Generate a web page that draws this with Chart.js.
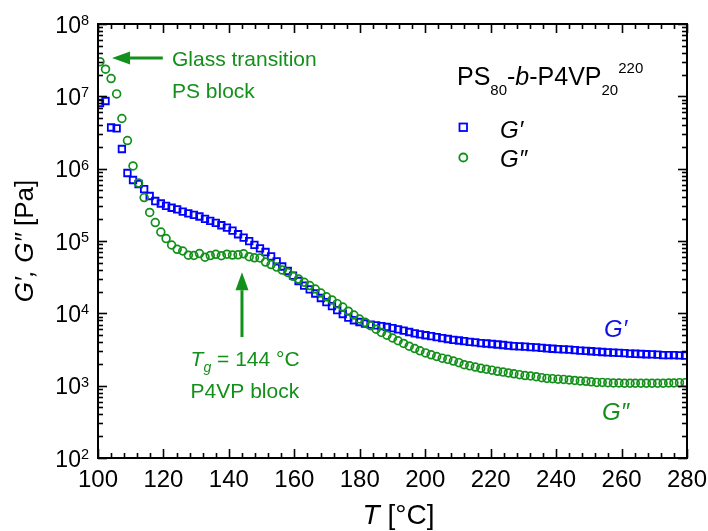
<!DOCTYPE html>
<html><head><meta charset="utf-8">
<script src="https://cdn.jsdelivr.net/npm/chart.js@4.4.1/dist/chart.umd.min.js"></script>
<style>html,body{margin:0;padding:0;background:#fff}</style>
</head><body>
<canvas id="c" width="708" height="531"></canvas>
<script>
// Temperature (°C)
const temperature = [100.6,102.3,104.0,105.7,107.3,109.0,110.7,112.4,114.1,115.8,
117.5,119.2,120.8,122.5,124.2,125.9,127.6,129.3,131.0,132.7,
134.3,136.0,137.7,139.4,141.1,142.8,144.5,146.2,147.8,149.5,
151.2,152.9,154.6,156.3,158.0,159.6,161.3,163.0,164.7,166.4,
168.1,169.8,171.5,173.1,174.8,176.5,178.2,179.9,181.6,183.3,
185.0,186.6,188.3,190.0,191.7,193.4,195.1,196.8,198.4,200.1,
201.8,203.5,205.2,206.9,208.6,210.3,211.9,213.6,215.3,217.0,
218.7,220.4,222.1,223.8,225.4,227.1,228.8,230.5,232.2,233.9,
235.6,237.2,238.9,240.6,242.3,244.0,245.7,247.4,249.1,250.7,
252.4,254.1,255.8,257.5,259.2,260.9,262.6,264.2,265.9,267.6,
269.3,271.0,272.7,274.4,276.0,277.7,279.4];
// G' storage modulus (Pa)
const storageModulus = [8.09e6,8.62e6,3.71e6,3.61e6,1.87e6,8.71e5,6.97e5,6.14e5,5.23e5,4.19e5,
3.57e5,3.30e5,3.05e5,2.88e5,2.73e5,2.55e5,2.41e5,2.29e5,2.18e5,2.02e5,
1.90e5,1.78e5,1.65e5,1.53e5,1.39e5,1.24e5,1.11e5,9.93e4,8.83e4,7.90e4,
7.04e4,6.14e4,5.24e4,4.44e4,3.85e4,3.33e4,2.80e4,2.42e4,2.14e4,1.88e4,
1.63e4,1.43e4,1.26e4,1.11e4,9.79e3,8.75e3,8.03e3,7.59e3,7.23e3,6.98e3,
6.81e3,6.66e3,6.47e3,6.23e3,6.01e3,5.75e3,5.52e3,5.29e3,5.13e3,4.98e3,
4.83e3,4.68e3,4.54e3,4.42e3,4.30e3,4.21e3,4.12e3,4.04e3,3.96e3,3.88e3,
3.83e3,3.77e3,3.71e3,3.65e3,3.58e3,3.53e3,3.49e3,3.46e3,3.42e3,3.38e3,
3.33e3,3.28e3,3.24e3,3.21e3,3.18e3,3.14e3,3.10e3,3.06e3,3.02e3,2.99e3,
2.95e3,2.92e3,2.89e3,2.86e3,2.84e3,2.81e3,2.78e3,2.76e3,2.74e3,2.72e3,
2.70e3,2.68e3,2.65e3,2.65e3,2.64e3,2.62e3,2.61e3];
// G'' loss modulus (Pa)
const lossModulus = [3.01e7,2.37e7,1.76e7,1.08e7,4.94e6,2.45e6,1.09e6,6.33e5,3.99e5,2.48e5,
1.80e5,1.33e5,1.08e5,8.80e4,7.68e4,7.27e4,6.36e4,6.30e4,6.71e4,5.97e4,
6.28e4,6.55e4,6.26e4,6.57e4,6.40e4,6.44e4,6.65e4,6.07e4,5.86e4,5.82e4,
5.12e4,4.73e4,4.36e4,3.97e4,3.67e4,3.25e4,2.98e4,2.69e4,2.42e4,2.17e4,
1.91e4,1.69e4,1.53e4,1.36e4,1.22e4,1.07e4,9.48e3,8.35e3,7.51e3,6.74e3,
6.03e3,5.43e3,4.98e3,4.56e3,4.18e3,3.83e3,3.51e3,3.26e3,3.03e3,2.84e3,
2.67e3,2.53e3,2.40e3,2.31e3,2.19e3,2.08e3,1.95e3,1.88e3,1.81e3,1.74e3,
1.69e3,1.64e3,1.58e3,1.54e3,1.50e3,1.46e3,1.42e3,1.38e3,1.36e3,1.33e3,
1.29e3,1.26e3,1.25e3,1.23e3,1.22e3,1.20e3,1.18e3,1.16e3,1.15e3,1.13e3,
1.11e3,1.11e3,1.10e3,1.09e3,1.09e3,1.08e3,1.08e3,1.08e3,1.08e3,1.08e3,
1.08e3,1.08e3,1.08e3,1.09e3,1.09e3,1.10e3,1.10e3];
// Axis ticks
const xMajorTicks = [100,120,140,160,180,200,220,240,260,280];
const xMinorTicks = [104,108,112,116,124,128,132,136,144,148,152,156,164,168,172,176,184,188,192,196,204,208,212,216,224,228,232,236,244,248,252,256,264,268,272,276];
const yDecadeExponents = [2,3,4,5,6,7,8];
const yMinorMultipliers = [2,3,4,5,6,7,8,9];

const BLUE = '#0000ff', GREEN = '#12901a', FONT = '"Liberation Sans", Arial, sans-serif';

function runs(ctx, x, y, parts, align) {
  let w = 0;
  parts.forEach(p => { ctx.font = (p[2] ? 'italic ' : '') + p[1] + 'px ' + FONT; p.w = ctx.measureText(p[0]).width; w += p.w; });
  let cx = align === 'right' ? x - w : align === 'center' ? x - w / 2 : x;
  ctx.textAlign = 'left'; ctx.textBaseline = 'alphabetic';
  parts.forEach(p => { ctx.font = (p[2] ? 'italic ' : '') + p[1] + 'px ' + FONT; ctx.fillText(p[0], cx, y + (p[3] || 0)); cx += p.w; });
}
function arrow(ctx, x1, y1, x2, y2, color) {
  const ang = Math.atan2(y2 - y1, x2 - x1), hl = 18, hw = 6.5;
  const bx = x2 - hl * Math.cos(ang), by = y2 - hl * Math.sin(ang);
  ctx.strokeStyle = color; ctx.fillStyle = color; ctx.lineWidth = 3;
  ctx.beginPath(); ctx.moveTo(x1, y1); ctx.lineTo(bx, by); ctx.stroke();
  ctx.beginPath(); ctx.moveTo(x2, y2);
  ctx.lineTo(bx + hw * Math.sin(ang), by - hw * Math.cos(ang));
  ctx.lineTo(bx - hw * Math.sin(ang), by + hw * Math.cos(ang));
  ctx.closePath(); ctx.fill();
}

const decor = {
  id: 'decor',
  afterDatasetsDraw(chart) {
    const { ctx, chartArea: a, scales: { x, y } } = chart;
    ctx.save();
    ctx.strokeStyle = '#000'; ctx.lineWidth = 2;
    ctx.strokeRect(a.left, a.top, a.right - a.left, a.bottom - a.top);
    ctx.lineWidth = 1.6;
    const seg = (x1, y1, x2, y2) => { ctx.beginPath(); ctx.moveTo(x1, y1); ctx.lineTo(x2, y2); ctx.stroke(); };
    xMajorTicks.forEach(v => { const p = Math.round(x.getPixelForValue(v)) + 0.5; seg(p, a.bottom, p, a.bottom - 9); seg(p, a.top, p, a.top + 9); });
    xMinorTicks.forEach(v => { const p = Math.round(x.getPixelForValue(v)) + 0.5; seg(p, a.bottom, p, a.bottom - 5); seg(p, a.top, p, a.top + 5); });
    yDecadeExponents.forEach(e => {
      const p = Math.round(y.getPixelForValue(Math.pow(10, e))) + 0.5;
      seg(a.left, p, a.left + 9, p); seg(a.right, p, a.right - 9, p);
      if (e < 8) yMinorMultipliers.forEach(m => {
        const q = Math.round(y.getPixelForValue(m * Math.pow(10, e))) + 0.5;
        seg(a.left, q, a.left + 5, q); seg(a.right, q, a.right - 5, q);
      });
    });
    ctx.fillStyle = '#000';
    xMajorTicks.forEach(v => runs(ctx, x.getPixelForValue(v), a.bottom + 29, [[String(v), 24]], 'center'));
    yDecadeExponents.forEach(e => {
      const p = y.getPixelForValue(Math.pow(10, e));
      runs(ctx, 89, p + 8.5, [['10', 23], [String(e), 14.5, false, -7.5]], 'right');
    });
    runs(ctx, (a.left + a.right) / 2 + 6, 524, [['T', 28, true], [' [°C]', 28]], 'center');
    ctx.save(); ctx.translate(33, (a.top + a.bottom) / 2); ctx.rotate(-Math.PI / 2);
    runs(ctx, 0, 0, [['G′, G″', 26, true], [' [Pa]', 26]], 'center');
    ctx.restore();
    runs(ctx, 457, 85, [['PS', 25], ['80', 15, false, 10], ['-', 25], ['b', 25, true], ['-P4VP', 25], ['20', 15, false, 10], ['220', 15, false, -12]]);
    ctx.strokeStyle = BLUE; ctx.lineWidth = 1.8; ctx.strokeRect(459.5, 123.5, 7.5, 7.5);
    ctx.strokeStyle = GREEN; ctx.beginPath(); ctx.arc(463.3, 157.5, 4, 0, Math.PI * 2); ctx.stroke();
    ctx.fillStyle = '#000';
    runs(ctx, 500, 138, [['G′', 24, true]]);
    runs(ctx, 500, 167, [['G″', 24, true]]);
    ctx.fillStyle = '#1010e6'; runs(ctx, 604, 337, [['G′', 24, true]]);
    ctx.fillStyle = GREEN; runs(ctx, 602, 420, [['G″', 24, true]]);
    const yg = y.getPixelForValue(3.4e7);
    arrow(ctx, x.getPixelForValue(119.8), yg, x.getPixelForValue(104.3), yg, GREEN);
    ctx.fillStyle = GREEN;
    runs(ctx, x.getPixelForValue(122.6), yg + 8, [['Glass transition', 21]]);
    runs(ctx, x.getPixelForValue(122.6), yg + 40, [['PS block', 21]]);
    const xa = x.getPixelForValue(144);
    arrow(ctx, xa, y.getPixelForValue(4.7e3), xa, y.getPixelForValue(3.7e4), GREEN);
    ctx.fillStyle = GREEN;
    runs(ctx, x.getPixelForValue(128.3), 366, [['T', 21, true], ['g', 14, true, 6], [' = 144 °C', 21]]);
    runs(ctx, x.getPixelForValue(128.3), 398, [['P4VP block', 21]]);
    ctx.restore();
  }
};

new Chart(document.getElementById('c'), {
  type: 'scatter',
  data: {
    datasets: [
      { label: "G'", data: temperature.map((t, i) => ({ x: t, y: storageModulus[i] })),
        pointStyle: 'rect', pointRadius: 4.6, pointBorderWidth: 1.8, borderColor: BLUE, backgroundColor: 'rgba(0,0,0,0)', order: 2 },
      { label: "G''", data: temperature.map((t, i) => ({ x: t, y: lossModulus[i] })),
        pointStyle: 'circle', pointRadius: 3.9, pointBorderWidth: 1.7, borderColor: GREEN, backgroundColor: 'rgba(0,0,0,0)', order: 1 }
    ]
  },
  options: {
    responsive: false, animation: false, devicePixelRatio: 1,
    layout: { padding: { top: 24, right: 21, left: 0, bottom: 0 } },
    plugins: { legend: { display: false }, tooltip: { enabled: false } },
    scales: {
      x: { type: 'linear', min: 100, max: 280, ticks: { display: false }, grid: { display: false }, border: { display: false },
           afterFit(s) { s.height = 73; } },
      y: { type: 'logarithmic', min: 100, max: 1e8, ticks: { display: false }, grid: { display: false }, border: { display: false },
           afterFit(s) { s.width = 98; } }
    }
  },
  plugins: [decor]
});
</script>
</body></html>
